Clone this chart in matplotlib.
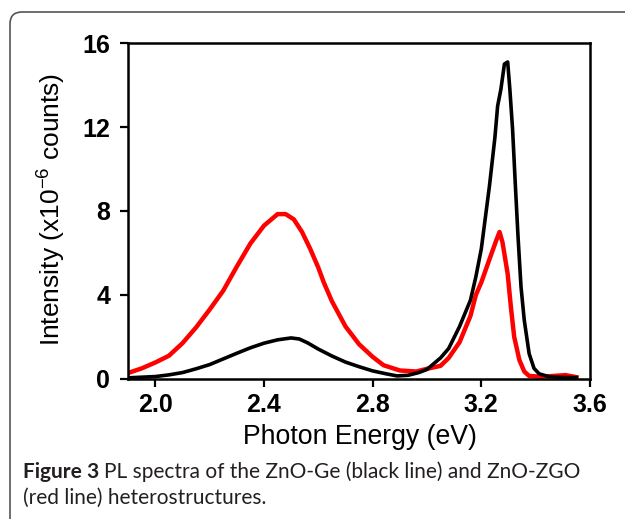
import matplotlib
matplotlib.use('Agg')
import matplotlib.pyplot as plt
from matplotlib.patches import FancyBboxPatch
from matplotlib.transforms import IdentityTransform

plt.rcParams['font.family'] = ['Liberation Sans', 'DejaVu Sans']
plt.rcParams['mathtext.fontset'] = 'custom'
plt.rcParams['mathtext.rm'] = 'Liberation Sans'
plt.rcParams['mathtext.default'] = 'regular'

# Datos (energia en eV, intensidad x1e-6 cuentas)
energia_ge = [1.90, 1.95, 2.00, 2.05, 2.10, 2.15, 2.20, 2.25, 2.30, 2.35, 2.40, 2.45,
              2.50, 2.53, 2.56, 2.60, 2.65, 2.70, 2.75, 2.80, 2.85, 2.89, 2.93, 2.97,
              3.00, 3.05, 3.08, 3.12, 3.16, 3.18, 3.20, 3.23, 3.25, 3.26, 3.272, 3.285,
              3.297, 3.305, 3.315, 3.325, 3.335, 3.346, 3.358, 3.376, 3.394, 3.413,
              3.45, 3.50, 3.55]
intens_ge = [0.05, 0.08, 0.11, 0.19, 0.30, 0.48, 0.68, 0.95, 1.22, 1.48, 1.70, 1.86,
             1.95, 1.90, 1.72, 1.42, 1.09, 0.80, 0.58, 0.38, 0.24, 0.14, 0.17, 0.30,
             0.45, 1.00, 1.45, 2.50, 3.75, 4.87, 6.20, 9.20, 11.5, 13.0, 13.8, 15.0,
             15.1, 13.8, 11.9, 9.3, 6.8, 4.4, 2.8, 1.2, 0.5, 0.24,
             0.10, 0.07, 0.06]

energia_zgo = [1.90, 1.95, 2.00, 2.05, 2.10, 2.15, 2.20, 2.25, 2.30, 2.35, 2.40, 2.45,
               2.48, 2.51, 2.54, 2.57, 2.60, 2.62, 2.65, 2.70, 2.75, 2.80, 2.84, 2.90,
               2.96, 3.00, 3.05, 3.08, 3.12, 3.16, 3.18, 3.20, 3.23, 3.255, 3.267, 3.278,
               3.297, 3.309, 3.321, 3.34, 3.358, 3.376, 3.42, 3.51, 3.55]
intens_zgo = [0.28, 0.50, 0.78, 1.10, 1.70, 2.45, 3.30, 4.20, 5.35, 6.45, 7.30, 7.85,
              7.85, 7.60, 7.00, 6.20, 5.30, 4.60, 3.70, 2.50, 1.65, 1.05, 0.65, 0.40,
              0.35, 0.48, 0.62, 1.00, 1.75, 3.00, 4.00, 4.60, 5.70, 6.60, 7.00, 6.50,
              5.00, 3.40, 2.00, 0.90, 0.35, 0.14, 0.10, 0.18, 0.08]

xticks = [2.0, 2.4, 2.8, 3.2, 3.6]
yticks = [0, 4, 8, 12, 16]

fig = plt.figure(figsize=(6.25, 5.19), dpi=100)
ax = fig.add_axes([0.205, 0.270, 0.739, 0.647])

ax.plot(energia_zgo, intens_zgo, color='#ff0000', lw=3.2)
ax.plot(energia_ge, intens_ge, color='black', lw=2.6)

ax.set_xlim(1.9, 3.6)
ax.set_ylim(0, 16)
ax.set_xticks(xticks)
ax.set_yticks(yticks)
ax.set_xticklabels(['%.1f' % v for v in xticks], fontsize=18, fontweight='bold')
ax.set_yticklabels([str(v) for v in yticks], fontsize=18, fontweight='bold')
ax.tick_params(direction='out', length=5.5, width=1.6)
ax.tick_params(axis='x', pad=5)
ax.tick_params(axis='y', pad=7.5)
for s in ax.spines.values():
    s.set_linewidth(1.8)

ax.set_xlabel('Photon Energy (eV)', fontsize=19.2)
ax.xaxis.set_label_coords(0.502, -0.134)
ax.set_ylabel('Intensity (x10$^{-6}$ counts)', fontsize=19)
ax.yaxis.set_label_coords(-0.13, 0.506)

# marco redondeado
marco = FancyBboxPatch((10, -20), 700, 527, boxstyle='round,pad=0,rounding_size=12',
                       transform=IdentityTransform(), fill=False, ec='#555555', lw=1.2)
fig.patches.append(marco)

# pie de figura
t1 = fig.text(23 / 625, 1 - 478 / 519, 'Figure 3', fontsize=15, fontweight='bold',
              family=['Lato', 'DejaVu Sans'], color='#231f20', va='baseline')
fig.canvas.draw()
bb = t1.get_window_extent()
fig.text((bb.x1 + 5) / 625, 1 - 478 / 519, 'PL spectra of the ZnO-Ge (black line) and ZnO-ZGO',
         fontsize=15, family=['Lato', 'DejaVu Sans'], color='#231f20', va='baseline')
fig.text(23 / 625, 1 - 504 / 519, '(red line) heterostructures.', fontsize=15,
         family=['Lato', 'DejaVu Sans'], color='#231f20', va='baseline')

fig.savefig('out.png', dpi=100)
